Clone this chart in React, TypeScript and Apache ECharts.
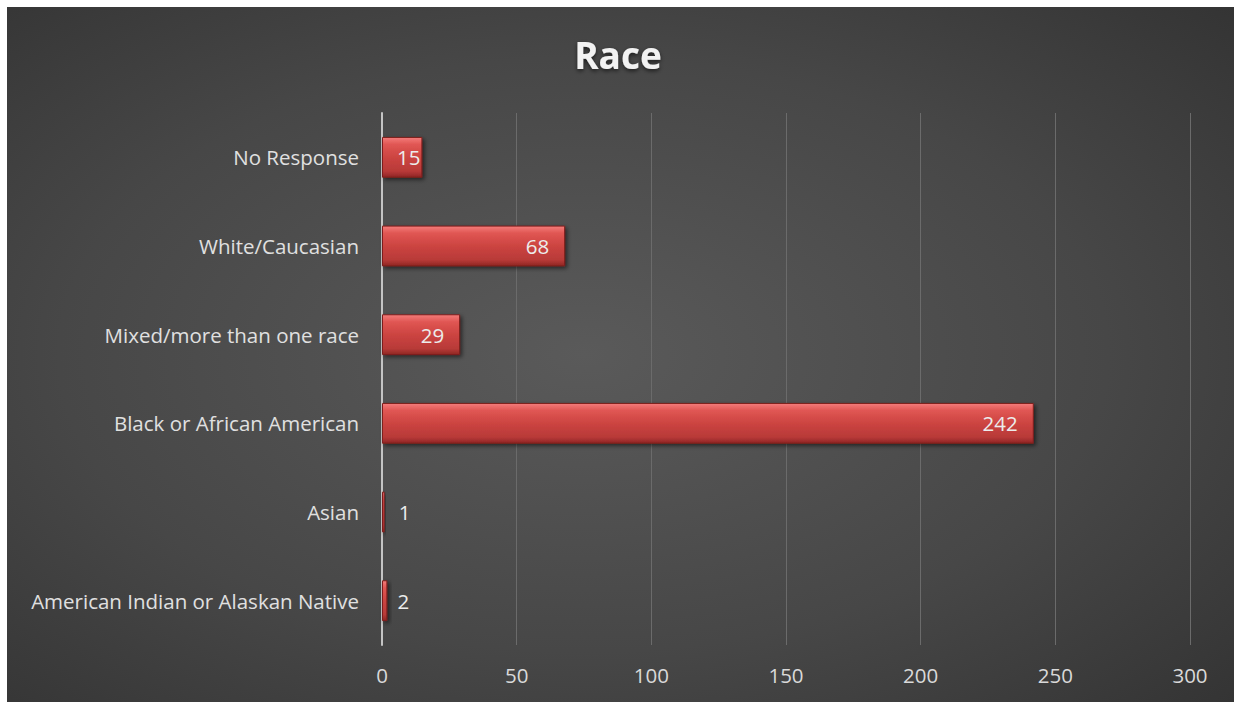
import React, { useEffect, useRef } from "react";
import * as echarts from "echarts";

const categories = [
  "American Indian or Alaskan Native",
  "Asian",
  "Black or African American",
  "Mixed/more than one race",
  "White/Caucasian",
  "No Response",
];
const values = [2, 1, 242, 29, 68, 15];
const labelDistances = [10, 14, 16, 16, 16, 2];
const outsideThreshold = 5;

export default function App() {
  const ref = useRef<HTMLDivElement>(null);
  useEffect(() => {
    document.body.style.margin = "0";
    const chart = echarts.init(ref.current!, null, { renderer: "svg" });
    const font = "'Open Sans', 'DejaVu Sans', sans-serif";
    const barFill = new echarts.graphic.LinearGradient(0, 0, 0, 1, [
      { offset: 0, color: "#f47c7a" },
      { offset: 0.18, color: "#e05653" },
      { offset: 0.5, color: "#cc4441" },
      { offset: 0.85, color: "#b83a38" },
      { offset: 1, color: "#8f2624" },
    ]);
    chart.setOption({
      animation: false,
      backgroundColor: "#ffffff",
      graphic: [
        {
          type: "rect",
          z: -100,
          silent: true,
          shape: { x: 7, y: 7, width: 1227, height: 695 },
          style: {
            fill: new echarts.graphic.RadialGradient(0.47, 0.5, 0.95, [
              { offset: 0, color: "#5a5a5a" },
              { offset: 0.45, color: "#474747" },
              { offset: 1, color: "#262626" },
            ]),
          },
        },
      ],
      title: {
        text: "Race",
        left: "center",
        top: 31,
        textStyle: {
          color: "#f2f2f2",
          fontFamily: font,
          fontWeight: "bold",
          fontSize: 37,
          textShadowColor: "rgba(0,0,0,0.6)",
          textShadowBlur: 4,
          textShadowOffsetY: 2,
        },
      },
      grid: { left: 382, right: 46, top: 113, height: 532, containLabel: false },
      xAxis: {
        type: "value",
        min: 0,
        max: 300,
        interval: 50,
        axisLine: { show: false },
        axisTick: { show: false },
        splitLine: { show: true, lineStyle: { color: "#6b6b6b", width: 1 } },
        axisLabel: { color: "#d9d9d9", fontSize: 20.5, fontFamily: font, margin: 19 },
      },
      yAxis: {
        type: "category",
        data: categories,
        axisLine: { show: true, lineStyle: { color: "#c4c4c4", width: 2 } },
        axisTick: { show: false },
        axisLabel: { color: "#e0e0e0", fontSize: 20.5, fontFamily: font, margin: 23 },
      },
      series: [
        {
          type: "bar",
          barCategoryGap: "54%",
          data: values.map((v, i) => ({
            value: v,
            label: {
              position: v < outsideThreshold ? "right" : "insideRight",
              distance: labelDistances[i],
            },
          })),
          itemStyle: {
            color: barFill,
            borderColor: "#7e1f1d",
            borderWidth: 1,
            shadowColor: "rgba(0,0,0,0.55)",
            shadowBlur: 4,
            shadowOffsetX: 2,
            shadowOffsetY: 2,
          },
          label: {
            show: true,
            color: "#ececec",
            fontSize: 20.5,
            fontFamily: font,
          },
        },
      ],
    });
    return () => chart.dispose();
  }, []);
  return <div ref={ref} style={{ width: 1236, height: 704 }} />;
}
